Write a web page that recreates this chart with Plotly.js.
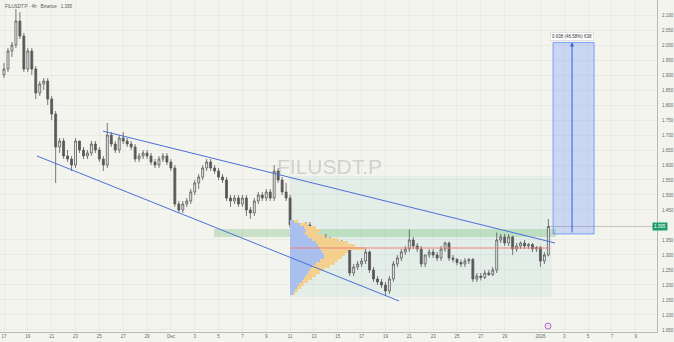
<!DOCTYPE html>
<html><head><meta charset="utf-8">
<script src="https://cdn.plot.ly/plotly-3.0.1.min.js"></script>
<style>html,body{margin:0;padding:0;background:#f4f4ef;}#c{width:674px;height:342px;}</style>
</head><body><div id="c"></div>
<script>
// ---- data ----
const symbol = "FILUSDT.P";
const headerText = "FILUSDT.P · 4h · Binance · 1.395";
const startTime = "2025-11-17T00:00:00Z";
const stepHours = 8;

const open = [
1.90,1.92,1.98,2.00,2.08,2.03,1.92,1.98,1.92,1.84,
1.87,1.88,1.82,1.77,1.66,1.68,1.63,1.62,1.60,1.68,
1.65,1.63,1.64,1.67,1.65,1.62,1.60,1.70,1.67,1.65,
1.69,1.68,1.67,1.66,1.62,1.63,1.64,1.63,1.61,1.60,
1.62,1.63,1.61,1.59,1.47,1.45,1.47,1.48,1.51,1.54,
1.56,1.59,1.61,1.59,1.58,1.56,1.55,1.49,1.48,1.49,
1.47,1.49,1.45,1.44,1.48,1.50,1.49,1.51,1.49,1.58,
1.55,1.51,1.49,1.40,1.38,1.39,1.38,1.40,1.39,1.31,
1.34,1.345,1.35,1.34,1.33,1.34,1.33,1.32,1.24,1.26,
1.27,1.28,1.31,1.25,1.22,1.21,1.20,1.18,1.22,1.27,
1.29,1.31,1.32,1.35,1.33,1.32,1.27,1.30,1.31,1.30,
1.29,1.32,1.34,1.29,1.285,1.275,1.27,1.28,1.285,1.22,
1.23,1.225,1.24,1.235,1.25,1.35,1.36,1.34,1.36,1.32,
1.33,1.34,1.33,1.335,1.32,1.325,1.28,1.30];
const high = [
1.94,1.99,2.01,2.12,2.11,2.04,1.99,1.99,1.93,1.88,
1.89,1.89,1.83,1.78,1.69,1.69,1.65,1.63,1.69,1.68,
1.66,1.65,1.68,1.68,1.66,1.63,1.74,1.71,1.68,1.70,
1.71,1.69,1.68,1.67,1.64,1.65,1.65,1.64,1.62,1.63,
1.64,1.64,1.62,1.60,1.48,1.48,1.49,1.52,1.55,1.57,
1.60,1.62,1.62,1.60,1.59,1.57,1.56,1.50,1.50,1.50,
1.50,1.50,1.46,1.49,1.51,1.51,1.52,1.52,1.60,1.59,
1.56,1.54,1.50,1.41,1.40,1.40,1.41,1.41,1.395,1.35,
1.355,1.37,1.36,1.35,1.35,1.35,1.34,1.33,1.27,1.28,
1.29,1.32,1.315,1.26,1.23,1.22,1.21,1.23,1.28,1.30,
1.32,1.33,1.385,1.36,1.34,1.33,1.30,1.32,1.32,1.31,
1.33,1.345,1.345,1.30,1.29,1.285,1.29,1.29,1.29,1.24,
1.24,1.25,1.25,1.26,1.375,1.37,1.37,1.37,1.365,1.34,
1.345,1.35,1.34,1.34,1.33,1.33,1.31,1.42];
const low = [
1.89,1.91,1.96,1.99,2.02,1.91,1.91,1.90,1.82,1.83,
1.85,1.80,1.75,1.54,1.64,1.62,1.61,1.58,1.59,1.64,
1.62,1.62,1.63,1.64,1.61,1.58,1.59,1.66,1.64,1.64,
1.67,1.66,1.65,1.61,1.61,1.62,1.62,1.60,1.59,1.59,
1.61,1.60,1.58,1.46,1.44,1.44,1.46,1.47,1.50,1.52,
1.55,1.58,1.58,1.57,1.55,1.54,1.48,1.46,1.47,1.46,
1.46,1.43,1.42,1.43,1.47,1.48,1.48,1.48,1.48,1.54,
1.50,1.48,1.39,1.37,1.37,1.37,1.37,1.38,1.30,1.30,
1.33,1.33,1.33,1.32,1.32,1.32,1.31,1.23,1.23,1.25,
1.26,1.27,1.24,1.21,1.20,1.19,1.165,1.17,1.21,1.26,
1.28,1.30,1.31,1.32,1.31,1.26,1.26,1.29,1.29,1.28,
1.28,1.31,1.28,1.275,1.265,1.26,1.26,1.27,1.21,1.21,
1.215,1.22,1.23,1.23,1.24,1.34,1.33,1.33,1.30,1.31,
1.32,1.32,1.32,1.31,1.31,1.26,1.27,1.295];
const close = [
1.92,1.98,2.00,2.08,2.03,1.92,1.98,1.92,1.84,1.87,
1.88,1.82,1.77,1.66,1.68,1.63,1.62,1.60,1.68,1.65,
1.63,1.64,1.67,1.65,1.62,1.60,1.70,1.67,1.65,1.69,
1.68,1.67,1.66,1.62,1.63,1.64,1.63,1.61,1.60,1.62,
1.63,1.61,1.59,1.47,1.45,1.47,1.48,1.51,1.54,1.56,
1.59,1.61,1.59,1.58,1.56,1.55,1.49,1.48,1.49,1.47,
1.49,1.45,1.44,1.48,1.50,1.49,1.51,1.49,1.58,1.55,
1.51,1.49,1.40,1.38,1.39,1.38,1.40,1.39,1.31,1.34,
1.345,1.35,1.34,1.33,1.34,1.33,1.32,1.24,1.26,1.27,
1.28,1.31,1.25,1.22,1.21,1.20,1.18,1.22,1.27,1.29,
1.31,1.32,1.35,1.33,1.32,1.27,1.30,1.31,1.30,1.29,
1.32,1.34,1.29,1.285,1.275,1.27,1.28,1.285,1.22,1.23,
1.225,1.24,1.235,1.25,1.35,1.36,1.34,1.36,1.32,1.33,
1.34,1.33,1.335,1.32,1.325,1.28,1.30,1.395];

// volume profile rows
const vpPrice = [1.41,1.40,1.39,1.38,1.37,1.36,1.35,1.34,1.33,1.32,1.31,1.30,1.29,1.28,1.27,1.26,1.25,1.24,1.23,1.22,1.21,1.20,1.19,1.18,1.17];
const vpUp    = [4,10,14,16,15,18,22,26,28,30,32,34,34,30,26,22,20,18,16,14,12,9,7,5,3];
const vpDown  = [4,8,12,14,13,17,26,32,37,45,26,21,18,18,19,18,14,12,10,8,6,5,4,3,2];

const xTickVals = ["2025-11-17","2025-11-19","2025-11-21","2025-11-23","2025-11-25","2025-11-27","2025-11-29","2025-12-01","2025-12-03","2025-12-05","2025-12-07","2025-12-09","2025-12-11","2025-12-13","2025-12-15","2025-12-17","2025-12-19","2025-12-21","2025-12-23","2025-12-25","2025-12-27","2025-12-29","2026-01-01","2026-01-03","2026-01-05","2026-01-07","2026-01-09"];
const xTickText = ["17","19","21","23","25","27","29","Dec","3","5","7","9","11","13","15","17","19","21","23","25","27","29","2026","3","5","7","9"];
const yTickVals = [1.05,1.10,1.15,1.20,1.25,1.30,1.35,1.45,1.50,1.55,1.60,1.65,1.70,1.75,1.80,1.85,1.90,1.95,2.00,2.05,2.10];

const lastPrice = 1.395;
const pocPrice = 1.3233;
const zoneLow = 1.36, zoneHigh = 1.387;
const measureLow = 1.370, measureHigh = 2.008;
const measureText = "0.638 (46.58%) 638";

// ---- build ----
const t0 = Date.parse(startTime);
function fmt(ms){ return new Date(ms).toISOString().slice(0,16).replace('T',' '); }
const times = close.map((_, i) => fmt(t0 + i*stepHours*3600e3));

const xRange = ["2025-11-16 15:57", "2026-01-10 18:42"];
const vpLeft = "2025-12-11 00:00";
const plotW = 657;
const xmin = Date.parse(xRange[0].replace(' ','T')+':00Z');
const xmax = Date.parse(xRange[1].replace(' ','T')+':00Z');
const f = (Date.parse(vpLeft.replace(' ','T')+':00Z') - xmin)/(xmax - xmin);
const x2Range = [-f*plotW, (1-f)*plotW];

const traces = [
  {type:'bar', orientation:'h', y: vpPrice, x: vpUp, xaxis:'x2', yaxis:'y', width:0.01,
   marker:{color:'#a9c0ef', line:{width:0}}, hoverinfo:'skip', showlegend:false},
  {type:'bar', orientation:'h', y: vpPrice, x: vpDown, base: vpUp, xaxis:'x2', yaxis:'y', width:0.01,
   marker:{color:'#f4d08e', line:{width:0}}, hoverinfo:'skip', showlegend:false},
  {type:'candlestick', x: times, open: open, high: high, low: low, close: close,
   increasing:{line:{color:'#585858', width:0.8}, fillcolor:'#efefef'},
   decreasing:{line:{color:'#585858', width:0.8}, fillcolor:'#585858'},
   whiskerwidth:0, hoverinfo:'skip', showlegend:false}
];

const blue = '#4b70d8';
const shapes = [
  {type:'rect', layer:'below', xref:'x', yref:'y', x0:vpLeft, x1:'2026-01-01 23:00', y0:1.16, y1:1.563,
   fillcolor:'rgba(150,205,205,0.17)', line:{width:0}},
  {type:'rect', layer:'below', xref:'x', yref:'y', x0:'2025-12-04 14:50', x1:'2026-01-02 07:00', y0:zoneLow, y1:zoneHigh,
   fillcolor:'rgba(102,187,106,0.30)', line:{width:0}},
  {type:'line', xref:'x', yref:'y', x0:vpLeft, x1:'2026-01-01 20:00', y0:pocPrice, y1:pocPrice,
   line:{color:'#ee8080', width:1}},
  {type:'line', xref:'x', yref:'y', x0:'2025-11-25 07:20', y0:1.713, x1:'2026-01-02 05:20', y1:1.340,
   line:{color:blue, width:1}},
  {type:'line', xref:'x', yref:'y', x0:'2025-11-19 18:26', y0:1.630, x1:'2025-12-20 03:20', y1:1.1467,
   line:{color:blue, width:1}},
  {type:'rect', xref:'x', yref:'y', x0:'2026-01-02 01:25', x1:'2026-01-05 12:00', y0:measureLow, y1:measureHigh,
   fillcolor:'rgba(41,98,255,0.2)', line:{color:'rgba(41,98,255,0.55)', width:1}},
  {type:'line', xref:'x', yref:'y', x0:times[times.length-1], x1:xRange[1], y0:lastPrice, y1:lastPrice,
   line:{color:'rgba(110,110,110,0.35)', width:1}},
  {type:'circle', xref:'x', yref:'y', xsizemode:'pixel', ysizemode:'pixel',
   xanchor:'2026-01-01 15:20', yanchor:1.063, x0:-3, x1:3, y0:-3, y1:3,
   line:{color:'#b46ad4', width:1}, fillcolor:'rgba(180,106,212,0.12)'}
];

const annotations = [
  {xref:'paper', yref:'paper', x:0.5008, y:0.497, text:symbol, showarrow:false,
   font:{family:'Liberation Sans, Arial, sans-serif', size:21, color:'rgba(120,120,120,0.3)'}},
  {xref:'paper', yref:'paper', x:0.004, y:0.993, xanchor:'left', yanchor:'top', text:headerText, showarrow:false,
   font:{family:'Liberation Sans, Arial, sans-serif', size:4.5, color:'#555'}},
  {xref:'x', yref:'y', x:'2026-01-03 15:40', y:measureHigh, axref:'x', ayref:'y', ax:'2026-01-03 15:40', ay:measureLow,
   showarrow:true, arrowhead:2, arrowsize:0.8, arrowwidth:1, arrowcolor:'#2f5fe0', text:''},
  {xref:'x', yref:'y', x:'2026-01-03 15:40', y:measureHigh, yanchor:'bottom', yshift:2, text:measureText, showarrow:false,
   bgcolor:'#ffffff', bordercolor:'#e2e2e2', borderwidth:1, borderpad:1,
   font:{family:'Liberation Sans, Arial, sans-serif', size:4.5, color:'#333'}},
  {xref:'paper', yref:'y', x:1, y:lastPrice, xanchor:'left', xshift:-5, text:'1.395', showarrow:false,
   bgcolor:'#1f9d6b', borderpad:1, font:{family:'Liberation Sans, Arial, sans-serif', size:4.5, color:'#ffffff'}}
];

const layout = {
  width:674, height:342,
  margin:{l:0, r:17, t:0, b:10, pad:0},
  paper_bgcolor:'#f4f4ef', plot_bgcolor:'#f4f4ef',
  barmode:'overlay', bargap:0,
  showlegend:false,
  xaxis:{type:'date', range:xRange, tickvals:xTickVals, ticktext:xTickText, tickangle:0,
    showgrid:true, gridcolor:'rgba(0,0,0,0.035)', gridwidth:1,
    showline:true, linecolor:'#b8b8b4', linewidth:1, ticks:'', zeroline:false,
    tickfont:{family:'Liberation Sans, Arial, sans-serif', size:4.5, color:'#666'},
    rangeslider:{visible:false}, fixedrange:true},
  xaxis2:{overlaying:'x', anchor:'y', range:x2Range, visible:false, fixedrange:true},
  yaxis:{side:'right', range:[1.0433, 2.15], tickvals:yTickVals, tickformat:'.3f',
    showgrid:true, gridcolor:'rgba(0,0,0,0.035)', zeroline:false,
    showline:true, linecolor:'#b8b8b4', linewidth:1, ticks:'', ticklabelstandoff:3,
    tickfont:{family:'Liberation Sans, Arial, sans-serif', size:4.5, color:'#666'}, fixedrange:true},
  shapes:shapes, annotations:annotations
};

Plotly.newPlot('c', traces, layout, {staticPlot:true, displayModeBar:false});
</script>
</body></html>
